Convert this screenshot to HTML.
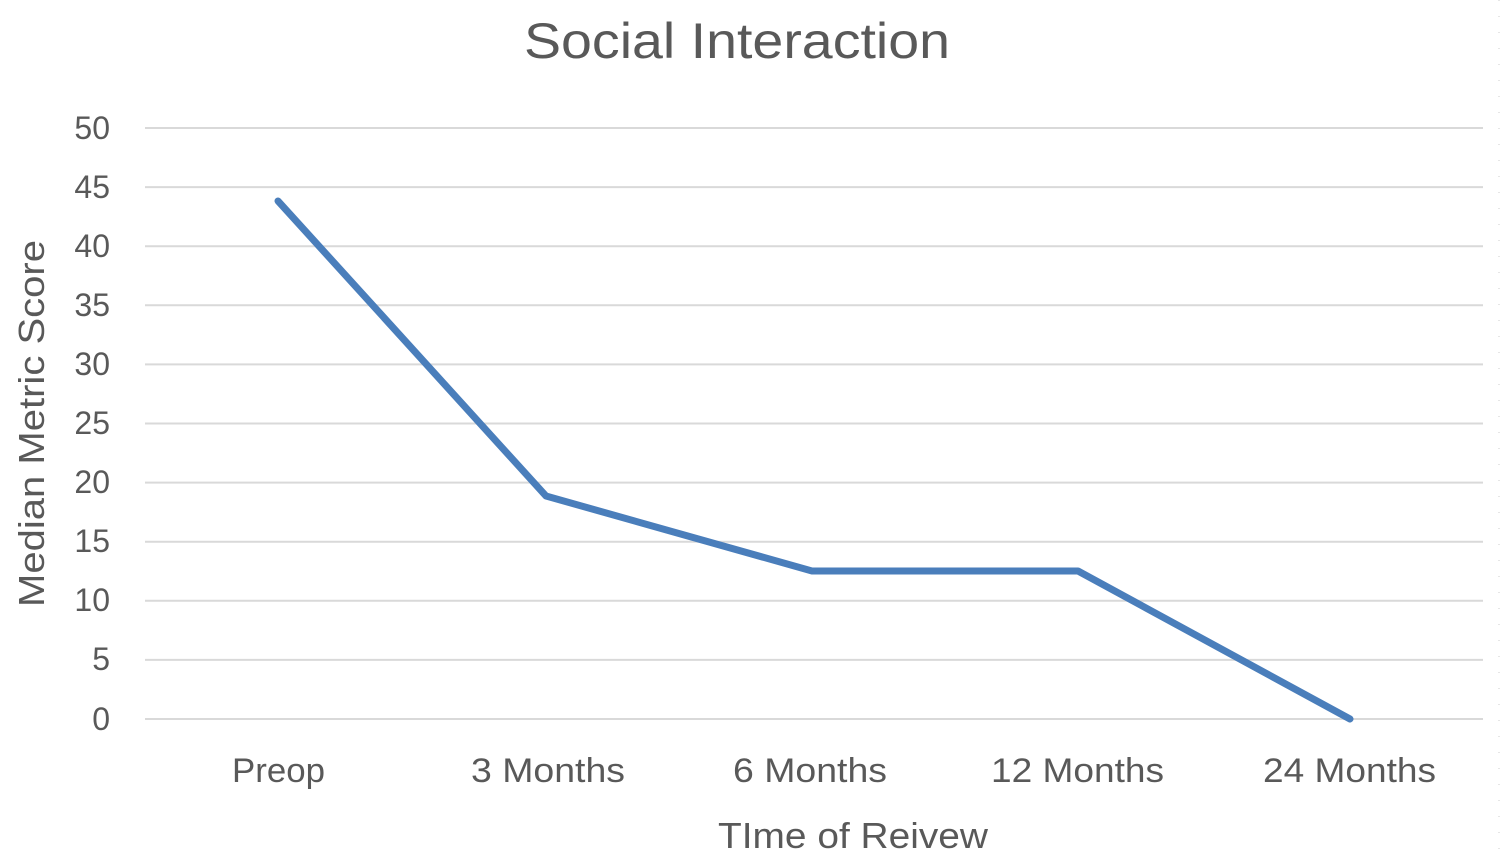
<!DOCTYPE html>
<html><head><style>
html,body{margin:0;padding:0;background:#fff;}
svg{display:block;}
text{font-family:"Liberation Sans",sans-serif;fill:#595959;}
</style></head><body>
<svg width="1500" height="862" xmlns="http://www.w3.org/2000/svg">
<rect width="1500" height="862" fill="#fff"/>
<line x1="1499" y1="0" x2="1499" y2="862" stroke="#ccc" stroke-dasharray="1,15"/>
<text x="524" y="58" font-size="50" textLength="426" lengthAdjust="spacingAndGlyphs">Social Interaction</text>
<g stroke="#d9d9d9" stroke-width="2">
<line x1="145" x2="1483" y1="128" y2="128"/>
<line x1="145" x2="1483" y1="187.1" y2="187.1"/>
<line x1="145" x2="1483" y1="246.2" y2="246.2"/>
<line x1="145" x2="1483" y1="305.3" y2="305.3"/>
<line x1="145" x2="1483" y1="364.4" y2="364.4"/>
<line x1="145" x2="1483" y1="423.5" y2="423.5"/>
<line x1="145" x2="1483" y1="482.6" y2="482.6"/>
<line x1="145" x2="1483" y1="541.7" y2="541.7"/>
<line x1="145" x2="1483" y1="600.8" y2="600.8"/>
<line x1="145" x2="1483" y1="659.9" y2="659.9"/>
<line x1="145" x2="1483" y1="719" y2="719"/>
</g>
<g font-size="32" text-anchor="end">
<text x="110" y="139">50</text>
<text x="110" y="198">45</text>
<text x="110" y="257">40</text>
<text x="110" y="316">35</text>
<text x="110" y="375">30</text>
<text x="110" y="434">25</text>
<text x="110" y="493">20</text>
<text x="110" y="552">15</text>
<text x="110" y="611">10</text>
<text x="110" y="670">5</text>
<text x="110" y="730">0</text>
</g>
<g font-size="34">
<text x="232" y="782" textLength="93" lengthAdjust="spacingAndGlyphs">Preop</text>
<text x="471" y="782" textLength="154" lengthAdjust="spacingAndGlyphs">3 Months</text>
<text x="733" y="782" textLength="154" lengthAdjust="spacingAndGlyphs">6 Months</text>
<text x="991" y="782" textLength="173" lengthAdjust="spacingAndGlyphs">12 Months</text>
<text x="1263" y="782" textLength="173" lengthAdjust="spacingAndGlyphs">24 Months</text>
</g>
<text x="718" y="848" font-size="36" textLength="270" lengthAdjust="spacingAndGlyphs">TIme of Reivew</text>
<text transform="translate(44,607) rotate(-90)" font-size="36" textLength="367" lengthAdjust="spacingAndGlyphs">Median Metric Score</text>
<polyline points="278,201 546,496 812,571 1078,571 1350,719" fill="none" stroke="#4a7ebb" stroke-width="7" stroke-linejoin="round" stroke-linecap="round"/>
</svg>
</body></html>
